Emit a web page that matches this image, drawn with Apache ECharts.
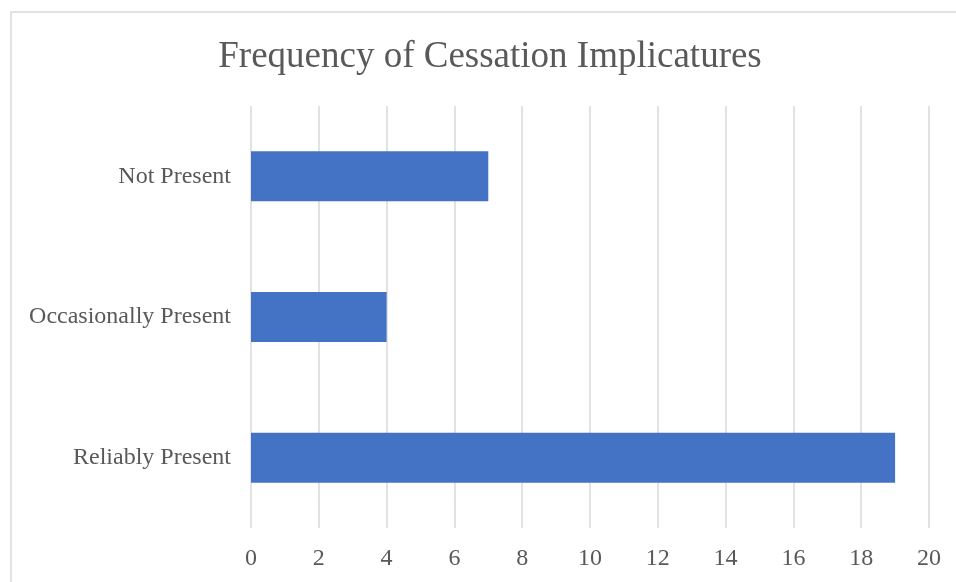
<head>
  <meta charset="UTF-8">
  <title>Frequency of Cessation Implicatures</title>
  <script src="https://cdn.jsdelivr.net/npm/echarts@6/dist/echarts.min.js" type="text/javascript"></script>
</head>

<body style="margin:0;background:#fff;">
  <div id="chart" style="width: 956px;height:582px;"></div>
  <script type="text/javascript">
    // categories bottom -> top, as the value axis draws them
    const categories = ['Reliably Present', 'Occasionally Present', 'Not Present'];
    const counts = [19, 4, 7];
    const xTicks = [0, 20, 2]; // min, max, step

    const myChart = echarts.init(document.getElementById('chart'));
    const font = '"Liberation Serif", "Times New Roman", serif';

    const option = {
      animation: false,
      backgroundColor: '#fff',
      title: {
        text: 'Frequency of Cessation Implicatures',
        left: 485,
        textAlign: 'center',
        top: 34,
        textStyle: { fontFamily: font, fontWeight: 'normal', fontSize: 37, color: '#595959' }
      },
      graphic: [{
        type: 'rect',
        shape: { x: 11, y: 12, width: 980, height: 620 },
        style: { fill: 'none', stroke: '#d9d9d9', lineWidth: 1.5 },
        silent: true
      }],
      grid: { left: 251, right: 27, top: 106, bottom: 54 },
      xAxis: {
        type: 'value',
        min: xTicks[0],
        max: xTicks[1],
        interval: xTicks[2],
        axisLine: { show: false },
        axisTick: { show: false },
        splitLine: { lineStyle: { color: '#d9d9d9', width: 1.5 } },
        axisLabel: { fontFamily: font, fontSize: 24, color: '#595959', margin: 19 }
      },
      yAxis: {
        type: 'category',
        data: categories,
        axisLine: { show: false },
        axisTick: { show: false },
        axisLabel: { fontFamily: font, fontSize: 24, color: '#595959', margin: 20, padding: [4, 0, 0, 0] }
      },
      series: [{
        type: 'bar',
        data: counts,
        barWidth: 50,
        itemStyle: { color: '#4472c4' }
      }]
    };
    myChart.setOption(option);
  </script>
</body>
